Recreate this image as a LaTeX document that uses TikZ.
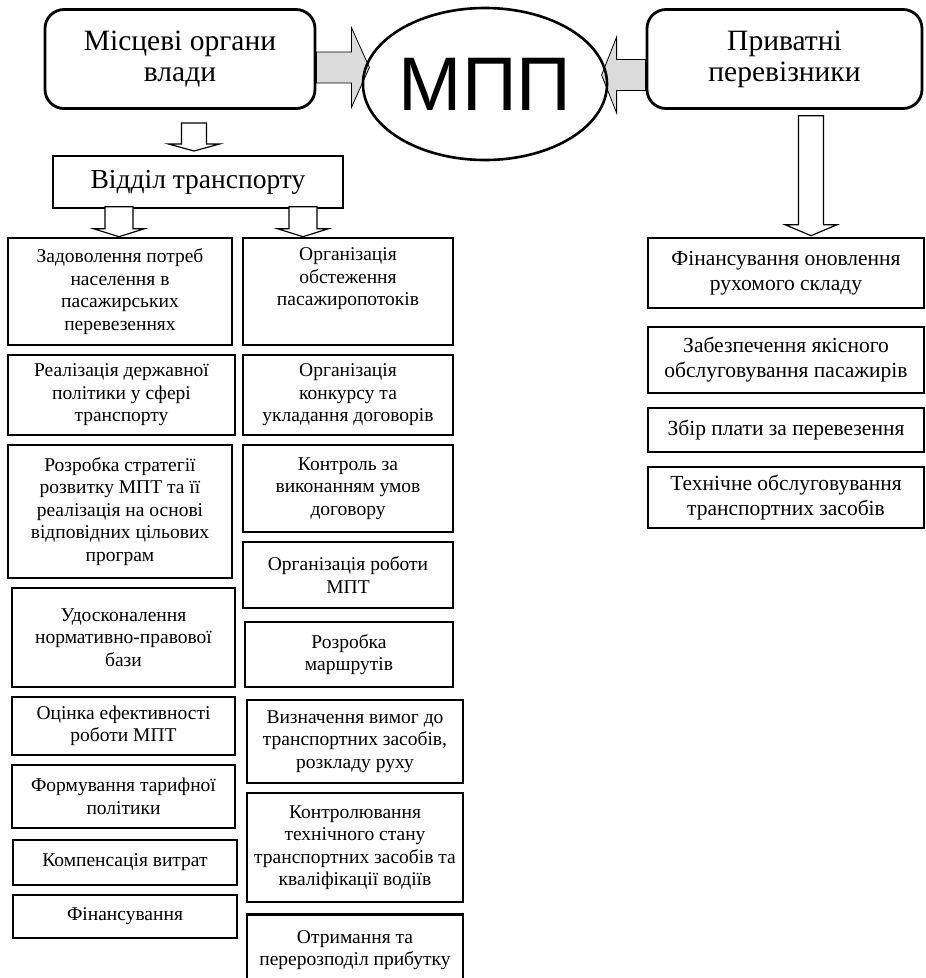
\documentclass[tikz,border=0pt]{standalone}
\usepackage{fontspec}
\setmainfont{Liberation Serif}
\newfontfamily\mppfont{Liberation Sans}
\usetikzlibrary{shapes.geometric,calc}

% hollow block arrow pointing down: tip, length, shaft half, head half, head length
\newcommand{\hollowdown}[5]{%
  \draw[hollow] (#1) -- ++(-#4,-#5) -- ++(#4-#3,0) -- ++(0,{-(#2-#5)})
    -- ++(2*#3,0) -- ++(0,{#2-#5}) -- ++(#4-#3,0) -- cycle;}
% grey block arrow: tip, length, shaft half, head half, head length, direction (1 right, -1 left)
\newcommand{\greyarrow}[6]{%
  \draw[grey] (#1) -- ++({-(#6)*#5},-#4) -- ++(0,#4-#3) -- ++({-(#6)*(#2-#5)},0)
    -- ++(0,2*#3) -- ++({(#6)*(#2-#5)},0) -- ++(0,#4-#3) -- cycle;}

\begin{document}
\begin{tikzpicture}[x=1pt,y=-1pt,
  box/.style={draw,line width=2.6pt,align=center,inner sep=2pt,
    font=\fontsize{19.5}{22.5}\selectfont},
  bigbox/.style={box,font=\fontsize{21.5}{25}\selectfont},
  rbox/.style={draw,line width=2.8pt,rounded corners=19pt,align=center,
    font=\fontsize{29.5}{31}\selectfont},
  hollow/.style={draw,line width=1.2pt,fill=white,line join=miter},
  grey/.style={draw,line width=0.8pt,fill=black!14}]
\useasboundingbox (0,0) rectangle (926,978);

\node[rbox,minimum width=270pt,minimum height=99pt] (loc) at (180,59) {Місцеві органи\\влади};
\node[rbox,minimum width=275pt,minimum height=99pt] (priv) at (784.5,59) {Приватні\\перевізники};
\node[draw,line width=2pt,minimum width=290pt,minimum height=52pt,
  font=\fontsize{27.5}{31}\selectfont] (vid) at (198,182) {Відділ транспорту};

% left column
\node[box,minimum width=224pt,minimum height=107pt] (z1) at (120,291.5) {Задоволення потреб\\населення в\\пасажирських\\перевезеннях};
\node[box,minimum width=227pt,minimum height=80pt] (z2) at (121.5,395) {Реалізація державної\\політики у сфері\\транспорту};
\node[box,minimum width=224pt,minimum height=133pt] (z3) at (120,511.5) {Розробка стратегії\\розвитку МПТ та її\\реалізація на основі\\відповідних цільових\\програм};
\node[box,minimum width=223pt,minimum height=99pt] (z4) at (123.5,637.5) {Удосконалення\\нормативно-правової\\бази};
\node[box,minimum width=223pt,minimum height=58pt] (z5) at (123.5,726) {Оцінка ефективності\\роботи МПТ};
\node[box,minimum width=223pt,minimum height=63pt] (z6) at (123.5,796.5) {Формування тарифної\\політики};
\node[box,minimum width=224pt,minimum height=45pt] (z7) at (125,862.5) {Компенсація витрат};
\node[box,minimum width=224pt,minimum height=43pt] (z8) at (125,916.5) {Фінансування};

% middle column
\node[box,minimum width=210pt,minimum height=107pt] (o1) at (348,291.5) {Організація\\обстеження\\пасажиропотоків\\\strut};
\node[box,minimum width=210pt,minimum height=80pt] (o2) at (348,395) {Організація\\конкурсу та\\укладання договорів};
\node[box,minimum width=210pt,minimum height=87pt] (o3) at (348,488.5) {Контроль за\\виконанням умов\\договору};
\node[box,minimum width=210pt,minimum height=66pt] (o4) at (348,575) {Організація роботи\\МПТ};
\node[box,minimum width=208pt,minimum height=65pt] (o5) at (349,654.5) {Розробка\\маршрутів};
\node[box,minimum width=216pt,minimum height=83pt] (o6) at (355,741.5) {Визначення вимог до\\транспортних засобів,\\розкладу руху};
\node[box,minimum width=216pt,minimum height=109pt] (o7) at (355,847.5) {Контролювання\\технічного стану\\транспортних засобів та\\кваліфікації водіїв};
\node[box,minimum width=216pt,minimum height=71pt] (o8) at (355,950) {Отримання та\\перерозподіл прибутку};

% right column
\node[bigbox,minimum width=276pt,minimum height=70pt] (p1) at (786,273) {Фінансування оновлення\\рухомого складу};
\node[bigbox,minimum width=276pt,minimum height=66pt] (p2) at (786,360) {Забезпечення якісного\\обслуговування пасажирів};
\node[bigbox,minimum width=276pt,minimum height=44pt] (p3) at (786,430) {Збір плати за перевезення};
\node[bigbox,minimum width=276pt,minimum height=61pt] (p4) at (786,497.5) {Технічне обслуговування\\транспортних засобів};

% arrows
\greyarrow{$(loc.east)+(53,8.5)$}{53}{15.5}{40}{18}{1}
\greyarrow{$(priv.west)+(-44,16)$}{44}{15.5}{38}{15}{-1}
\hollowdown{$(vid.north)+(-4,-4)$}{28}{12.5}{25.5}{7}
\hollowdown{$(z1.north)+(-1,0)$}{30}{14}{25.5}{8}
\hollowdown{$(o1.north)+(-45,0)$}{30}{14}{25.5}{8}
\hollowdown{$(p1.north)+(25,-1)$}{120}{12.5}{26}{11}

\node[draw,ellipse,line width=2.6pt,minimum width=242pt,minimum height=152pt,inner sep=0pt,
  font=\mppfont\fontsize{76}{76}\selectfont] (mpp) at (485,84) {МПП};
\end{tikzpicture}
\end{document}
